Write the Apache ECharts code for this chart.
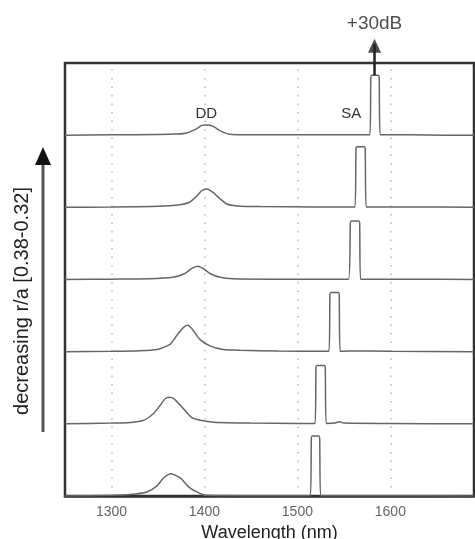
<!DOCTYPE html>
<html>
<head>
<meta charset="utf-8">
<script src="https://cdn.jsdelivr.net/npm/echarts@6/dist/echarts.min.js"></script>
<style>html,body{margin:0;padding:0;background:#fff}#c{width:475px;height:539px}</style>
</head>
<body>
<div id="c"></div>
<script>
// Wavelength axis
const xMin = 1250, xMax = 1690;
const gridValues = [1300, 1400, 1500, 1600];
const tickLabels = ['1300', '1400', '1500', '1600'];
const traceNames = ['r/a 1', 'r/a 2', 'r/a 3', 'r/a 4', 'r/a 5', 'r/a 6'];
// Relative intensity [wavelength nm, relative level] for each spectrum, top to bottom
const trace1 = [[1250,0],[1300,0.005],[1350,0.01],[1370,0.015],[1381,0.03],[1392,0.09],[1397,0.135],[1402,0.14],[1409,0.125],[1417,0.06],[1427,0.014],[1450,0.005],[1500,0.005],[1560,0.005],[1578,0.005],[1579,0.8],[1580,0.83],[1587,0.83],[1588,0.8],[1589,0.005],[1620,0.005],[1660,0.0],[1690,0.0]];
const trace2 = [[1250,0],[1300,0.005],[1350,0.015],[1374,0.037],[1384,0.07],[1392,0.16],[1397,0.23],[1402,0.255],[1409,0.21],[1417,0.115],[1424,0.046],[1435,0.02],[1460,0.01],[1520,0.005],[1562,0.005],[1563,0.8],[1564,0.84],[1572,0.84],[1573,0.8],[1574,0.005],[1620,0.005],[1690,0.0]];
const trace3 = [[1250,0],[1300,0.005],[1340,0.01],[1366,0.03],[1379,0.083],[1386,0.15],[1393,0.185],[1399,0.15],[1406,0.083],[1417,0.03],[1431,0.01],[1470,0.005],[1555,0.005],[1557,0.78],[1558,0.81],[1566,0.81],[1567,0.78],[1568,0.005],[1620,0.005],[1690,0.0]];
const trace4 = [[1250,0],[1300,0.005],[1330,0.012],[1349,0.03],[1363,0.10],[1370,0.22],[1377,0.33],[1382,0.365],[1387,0.31],[1395,0.17],[1406,0.08],[1420,0.03],[1438,0.02],[1480,0.008],[1534,0.005],[1535,0.79],[1536,0.82],[1544,0.82],[1545,0.79],[1546,0.005],[1555,0.01],[1600,0.005],[1690,0.0]];
const trace5 = [[1250,0],[1300,0.01],[1320,0.02],[1334,0.046],[1345,0.14],[1352,0.25],[1358,0.35],[1362,0.37],[1367,0.35],[1376,0.23],[1386,0.09],[1397,0.046],[1410,0.023],[1450,0.01],[1500,0.005],[1519,0.005],[1520,0.78],[1521,0.81],[1529,0.81],[1530,0.78],[1531,0.005],[1540,0.01],[1545,0.03],[1550,0.01],[1600,0.005],[1690,0.0]];
const trace6 = [[1250,0],[1300,0.01],[1320,0.02],[1338,0.056],[1349,0.14],[1356,0.25],[1364,0.31],[1374,0.25],[1384,0.115],[1395,0.037],[1402,0.01],[1450,0.005],[1514,0.005],[1515,0.8],[1516,0.83],[1523,0.83],[1524,0.8],[1525,0.005],[1560,0.005],[1690,0.0]];
const traces = [trace1, trace2, trace3, trace4, trace5, trace6];
// Annotation: off-scale SA peak of top spectrum (+30dB)
const arrowLambda = 1583;
const arrowFrom = 0.83, arrowTo = 1.36;
const ddLabel = [1402, 0.3], saLabel = [1558, 0.3];

const chart = echarts.init(document.getElementById('c'));
const lineColor = '#666';
const series = traces.map((t, i) => {
  const off = traces.length - 1 - i;
  return {
    name: traceNames[i], type: 'line', data: t.map(p => [p[0], p[1] + off]),
    showSymbol: false, symbol: 'none', smooth: 0.2,
    lineStyle: { color: lineColor, width: 1.5 }, z: 3
  };
});
// dotted vertical grid lines
series[0].markLine = {
  silent: true, symbol: ['none', 'none'], label: { show: false },
  lineStyle: { color: '#bbb', type: [1.5, 7], width: 1.5 },
  data: gridValues.map(v => ({ xAxis: v })), z: 1
};
series[0].markPoint = {
  symbol: 'circle', symbolSize: 0,
  label: { show: true, color: '#333', fontSize: 15, fontFamily: 'Liberation Sans' },
  data: [
    { coord: [ddLabel[0], ddLabel[1] + 5], value: 'DD', label: { formatter: 'DD' } },
    { coord: [saLabel[0], saLabel[1] + 5], value: 'SA', label: { formatter: 'SA' } }
  ]
};
// arrow shaft and head
series.push({
  type: 'line', clip: false, showSymbol: false, symbol: 'none', silent: true,
  data: [[arrowLambda, arrowFrom + 5], [arrowLambda, arrowTo + 5 - 0.1]],
  lineStyle: { color: '#222', width: 2.5 }, z: 4
});
series.push({
  type: 'scatter', clip: false, silent: true, symbol: 'triangle', symbolSize: [13, 14],
  data: [[arrowLambda, arrowTo + 5 - 0.12]], itemStyle: { color: '#222' },
  label: { show: true, position: 'top', distance: 5, formatter: '+30dB', color: '#222', fontSize: 19, fontFamily: 'Liberation Sans' },
  z: 5
});

chart.setOption({
  animation: false,
  backgroundColor: '#fff',
  grid: { left: 65, top: 63, right: 1, bottom: 43, outerBoundsMode: 'none', containLabel: false, show: true, borderColor: '#333', borderWidth: 2.5, backgroundColor: 'transparent' },
  xAxis: {
    type: 'value', min: xMin, max: xMax,
    name: 'Wavelength (nm)', nameLocation: 'middle', nameGap: 27,
    nameTextStyle: { fontSize: 18, color: '#222', fontFamily: 'Liberation Sans' },
    axisLine: { show: true, lineStyle: { color: '#333', width: 2.5 } },
    axisTick: { show: false },
    splitLine: { show: false },
    axisLabel: { customValues: gridValues, formatter: v => tickLabels[gridValues.indexOf(v)] || '', fontSize: 14, color: '#666', margin: 9, fontFamily: 'Liberation Sans' }
  },
  yAxis: {
    type: 'value', min: 0, max: 6, interval: 1,
    axisLine: { show: false }, axisTick: { show: false }, axisLabel: { show: false }, splitLine: { show: false }
  },
  graphic: [
    { type: 'text', x: 22, y: 301, rotation: Math.PI / 2,
      style: { text: 'decreasing r/a [0.38-0.32]', fontSize: 20, fontFamily: 'Liberation Sans', fill: '#222', textAlign: 'center', textVerticalAlign: 'middle' } },
    { type: 'line', shape: { x1: 43, y1: 432, x2: 43, y2: 160 }, style: { stroke: '#555', lineWidth: 3 } },
    { type: 'polygon', shape: { points: [[43, 147], [35, 165], [51, 165]] }, style: { fill: '#111' } }
  ],
  series: series
});
</script>
</body>
</html>
